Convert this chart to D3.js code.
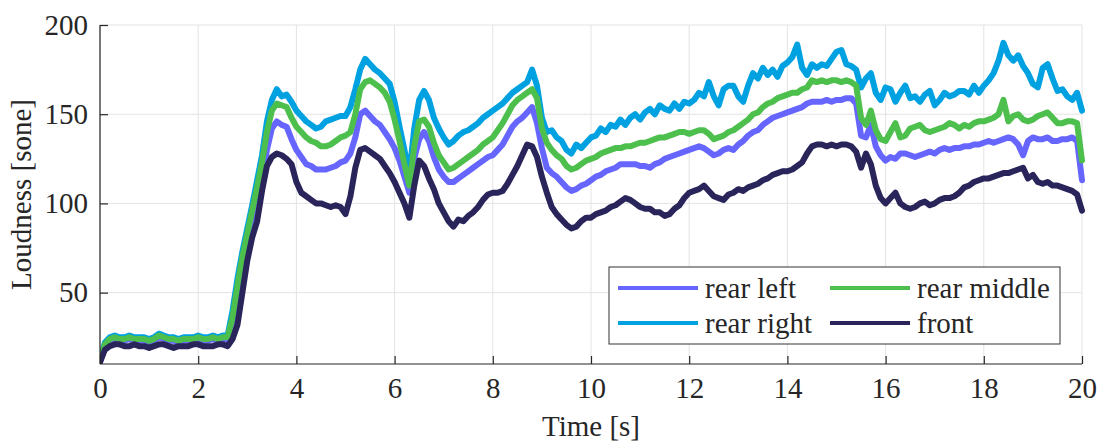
<!DOCTYPE html>
<html>
<head>
<meta charset="utf-8">
<script src="https://cdn.jsdelivr.net/npm/d3@7"></script>
<style>
  html, body { margin: 0; padding: 0; background: #fff; }
  svg { display: block; }
  svg text { font-family: "Liberation Serif", "DejaVu Serif", serif !important; fill: #262626; }
</style>
</head>
<body>
<svg id="chart" width="1101" height="441"></svg>
<script>
// ---- data (sampled every 0.1 s, t = 0 ... 20 s) ----
const sampleStep = 0.1;
const seriesNames = ["rear left", "rear middle", "rear right", "front"];
const seriesColors = ["#6666ff", "#4dbf4d", "#00a1e0", "#29245a"];

const rearRight = [
  12, 22,
  25, 26, 25, 25, 26, 25, 25, 25, 24, 25, 27, 26, 25, 25, 24, 25, 25, 25, 26, 25, 25, 26, 25, 26, 26,
  40, 58, 73, 86, 99, 113, 127, 146, 158, 164, 160, 161, 157,
  152, 149, 146, 144, 142, 143, 146, 147, 148, 149, 149, 154, 164, 175, 181, 178, 175, 173, 170, 167, 157, 143, 130, 116, 142, 158, 163, 158, 148, 142, 137, 133, 135, 138, 140, 141, 143, 145, 148, 150, 152,
  154, 156, 159, 162, 164, 166, 168, 175, 166, 148, 140, 141, 137, 135, 130, 128, 133, 131, 134, 137, 138, 142, 140, 144, 143, 147, 144, 148, 150, 147, 151, 153, 150, 155, 153, 152, 156, 153, 157, 156,
  158, 162, 160, 168, 160, 155, 164, 166, 166, 160, 157, 166, 173, 170, 176, 172, 175, 171, 177, 179, 182, 189, 176, 172, 178, 176, 178, 177, 181, 185, 186, 178, 177, 175, 165, 170, 173, 162, 158, 165,
  164, 157, 162, 166, 159, 160, 157, 161, 163, 155, 158, 162, 160, 161, 163, 163, 161, 166, 162, 166, 169, 173, 180, 190, 183, 180, 183, 177, 173, 167, 165, 176, 178, 170, 163, 164, 160, 158, 162, 152
];

const rearMiddle = [
  12, 21,
  24, 25, 24, 24, 25, 24, 24, 24, 23, 24, 26, 25, 24, 24, 23, 24, 24, 24, 25, 24, 24, 25, 24, 25, 25,
  36, 54, 70, 83, 96, 109, 123, 140, 152, 156, 155, 154, 148,
  143, 140, 137, 135, 134, 132, 132, 133, 135, 137, 138, 140, 150, 164, 168, 169, 167, 165, 162, 157, 147, 135, 122, 110, 132, 146, 147, 143, 134, 127, 123, 119, 120, 122, 124, 126, 128, 130, 133, 135, 137,
  141, 145, 150, 155, 158, 160, 162, 164, 159, 142, 134, 130, 127, 125, 121, 119, 120, 122, 124, 125, 126, 128, 129, 130, 131, 131, 132, 132, 133, 134, 134, 135, 136, 137, 137, 138, 139, 140, 140, 139,
  140, 141, 141, 139, 136, 137, 138, 140, 141, 143, 145, 147, 150, 151, 154, 156, 157, 159, 160, 161, 162, 162, 164, 165, 169, 168, 169, 168, 169, 169, 168, 169, 168, 166, 148, 144, 152, 141, 136, 135,
  140, 145, 137, 138, 142, 143, 144, 141, 140, 141, 142, 143, 145, 144, 142, 144, 143, 145, 146, 146, 147, 148, 150, 158, 146, 149, 150, 147, 146, 147, 149, 150, 151, 148, 145, 145, 146, 146, 145, 124
];

const rearLeft = [
  11, 20,
  23, 24, 23, 23, 24, 23, 23, 23, 22, 23, 25, 24, 23, 23, 22, 23, 23, 23, 24, 23, 23, 24, 23, 24, 24,
  33, 50, 65, 79, 90, 100, 113, 130, 142, 146, 144, 143, 136,
  130, 126, 122, 121, 119, 119, 119, 120, 121, 123, 124, 128, 137, 150, 152, 149, 146, 144, 140, 136, 131, 124, 115, 106, 125, 136, 140, 135, 126, 119, 115, 112, 112, 114, 116, 118, 120, 122, 124, 126, 127,
  130, 133, 138, 143, 146, 148, 151, 154, 145, 131, 120, 117, 115, 112, 109, 107, 108, 110, 111, 113, 115, 116, 118, 119, 120, 122, 122, 122, 122, 121, 121, 120, 122, 123, 125, 126, 127, 128, 129, 130,
  131, 132, 131, 129, 127, 128, 130, 131, 130, 133, 135, 138, 140, 141, 144, 146, 148, 149, 150, 151, 152, 153, 154, 156, 157, 157, 157, 158, 157, 158, 158, 159, 159, 156, 138, 137, 144, 132, 127, 124,
  126, 125, 128, 128, 127, 126, 127, 128, 129, 128, 130, 131, 130, 131, 131, 132, 132, 133, 133, 134, 135, 134, 135, 136, 137, 136, 133, 127, 135, 137, 136, 136, 137, 135, 135, 136, 136, 137, 135, 113
];

const front = [
  11, 18,
  20, 21, 21, 20, 20, 21, 20, 20, 19, 20, 21, 21, 20, 19, 20, 20, 20, 21, 21, 20, 20, 20, 21, 21, 20,
  24, 32, 50, 68, 81, 90, 107, 121, 126, 128, 127, 125, 122,
  112, 106, 104, 102, 100, 100, 99, 98, 99, 98, 94, 104, 120, 130, 131, 129, 127, 125, 121, 117, 112, 106, 100, 92, 110, 124, 121, 114, 108, 100, 95, 90, 87, 91, 90, 93, 95, 98, 102, 105, 106,
  106, 107, 111, 116, 121, 127, 133, 132, 126, 115, 106, 98, 94, 91, 88, 86, 87, 90, 92, 92, 94, 95, 96, 98, 99, 101, 103, 102, 100, 98, 97, 97, 95, 95, 93, 94, 97, 99, 103, 106,
  107, 108, 110, 107, 104, 103, 102, 105, 106, 108, 107, 109, 110, 111, 113, 114, 116, 117, 118, 118, 119, 121, 123, 128, 132, 133, 133, 132, 133, 132, 133, 133, 132, 129, 120, 128, 122, 110, 103, 100,
  103, 106, 100, 98, 97, 98, 100, 101, 99, 100, 102, 103, 103, 104, 106, 109, 110, 112, 113, 114, 114, 115, 116, 117, 117, 118, 119, 120, 114, 116, 112, 111, 112, 110, 110, 109, 108, 107, 105, 96
];

const xTicks = [0, 2, 4, 6, 8, 10, 12, 14, 16, 18, 20];
const yTicks = [50, 100, 150, 200];
const xLabel = "Time [s]";
const yLabel = "Loudness [sone]";

// ---- layout ----
const svg = d3.select("#chart");
const L = 100, R = 1082, T = 25, B = 364;
const x = d3.scaleLinear().domain([0, 20]).range([L, R]);
const y = d3.scaleLinear().domain([10, 200]).range([B, T]);
const axisColor = "#262626";
const fontSize = 29;
const serif = "'Liberation Serif', 'DejaVu Serif', serif";

// grid
const grid = svg.append("g");
grid.selectAll("line.gx").data(xTicks).join("line")
  .attr("x1", d => x(d)).attr("x2", d => x(d)).attr("y1", T).attr("y2", B)
  .attr("stroke", "#e3e3e3").attr("stroke-width", 1);
grid.selectAll("line.gy").data(yTicks).join("line")
  .attr("x1", L).attr("x2", R).attr("y1", d => y(d)).attr("y2", d => y(d))
  .attr("stroke", "#e3e3e3").attr("stroke-width", 1);

// lines
svg.append("clipPath").attr("id", "clip").append("rect")
  .attr("x", L).attr("y", T - 5).attr("width", R - L + 4).attr("height", B - T + 5);

const byName = {"rear left": rearLeft, "rear middle": rearMiddle, "rear right": rearRight, "front": front};
const drawOrder = ["rear left", "rear right", "rear middle", "front"];
const line = d3.line().x((d, i) => x(i * sampleStep)).y(d => y(d));
const lg = svg.append("g").attr("clip-path", "url(#clip)");
drawOrder.forEach(name => {
  lg.append("path").datum(byName[name])
    .attr("d", line)
    .attr("fill", "none")
    .attr("stroke", seriesColors[seriesNames.indexOf(name)])
    .attr("stroke-width", 6)
    .attr("stroke-linejoin", "round")
    .attr("stroke-linecap", "round");
});

// axes
const xAxis = d3.axisBottom(x).tickValues(xTicks).tickSize(-8).tickPadding(18).tickFormat(d3.format("d"));
const yAxis = d3.axisLeft(y).tickValues(yTicks).tickSize(-8).tickPadding(12).tickFormat(d3.format("d"));

const gx = svg.append("g").attr("transform", `translate(0,${B})`).call(xAxis);
const gy = svg.append("g").attr("transform", `translate(${L},0)`).call(yAxis);
[gx, gy].forEach(g => {
  g.attr("font-family", serif).attr("font-size", fontSize);
  g.select(".domain").attr("stroke", axisColor).attr("stroke-width", 1.2);
  g.selectAll(".tick line").attr("stroke", axisColor).attr("stroke-width", 1.2);
  g.selectAll(".tick text").attr("fill", axisColor)
    .attr("font-family", serif).attr("font-size", fontSize);
});
gx.select(".domain").attr("d", `M${L},0H${R}`);
gy.select(".domain").attr("d", `M0,${B}V${T}`);
gx.selectAll(".tick text").attr("dy", "0.71em").attr("y", 13);
gy.selectAll(".tick text").attr("x", -12);

// axis labels
svg.append("text").attr("x", (L + R) / 2).attr("y", 436)
  .attr("text-anchor", "middle").attr("font-family", serif).attr("font-size", fontSize).text(xLabel);
svg.append("text").attr("transform", `translate(31,${(T + B) / 2}) rotate(-90)`)
  .attr("text-anchor", "middle").attr("font-family", serif).attr("font-size", fontSize).text(yLabel);

// legend
const leg = svg.append("g");
leg.append("rect").attr("x", 609).attr("y", 267).attr("width", 451).attr("height", 77)
  .attr("fill", "#fff").attr("stroke", "#333").attr("stroke-width", 1);
const legPos = [
  {name: "rear left", lx: 618, ly: 288},
  {name: "rear middle", lx: 830, ly: 288},
  {name: "rear right", lx: 618, ly: 323},
  {name: "front", lx: 830, ly: 323}
];
legPos.forEach(p => {
  leg.append("line").attr("x1", p.lx).attr("x2", p.lx + 80).attr("y1", p.ly).attr("y2", p.ly)
    .attr("stroke", seriesColors[seriesNames.indexOf(p.name)]).attr("stroke-width", 4);
  leg.append("text").attr("x", p.lx + 87).attr("y", p.ly + 10)
    .attr("font-family", serif).attr("font-size", fontSize).text(p.name);
});
</script>
</body>
</html>
